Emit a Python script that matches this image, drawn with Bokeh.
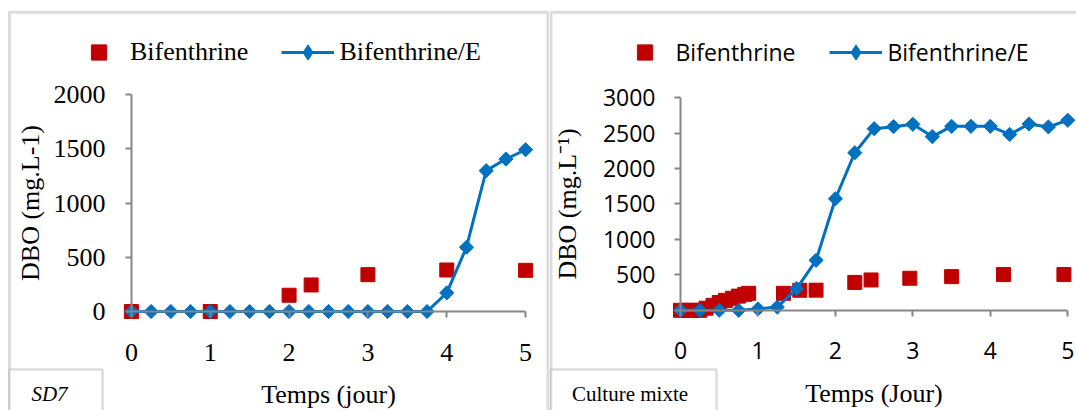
import math

from bokeh.embed import file_html
from bokeh.layouts import row
from bokeh.models import (BoxAnnotation, FixedTicker, Label, Legend,
                          LegendItem, Range1d)
from bokeh.plotting import figure
from bokeh.resources import INLINE

# ---- SD7 strain ------------------------------------------------------------
sd7_bif_days = [0, 1, 2, 2.28, 3, 4, 5]
sd7_bif_dbo = [0, 0, 150, 245, 340, 383, 380]

sd7_bife_days = [0, 0.25, 0.5, 0.75, 1, 1.25, 1.5, 1.75, 2, 2.25, 2.5,
                 2.75, 3, 3.25, 3.5, 3.75, 4, 4.25, 4.5, 4.75, 5]
sd7_bife_dbo = [0, 0, 0, 0, 0, 0, 0, 0, 0, 0, 0,
                0, 0, 0, 0, 0, 172, 593, 1300, 1407, 1493]

sd7_y_ticks = [0, 500, 1000, 1500, 2000]

# ---- mixed culture -----------------------------------------------------------
mix_bif_days = [0, 0.08, 0.17, 0.25, 0.33, 0.42, 0.5, 0.58, 0.67, 0.75,
                0.83, 0.88, 1.33, 1.54, 1.75, 2.25, 2.46, 2.96, 3.5,
                4.17, 4.95]
mix_bif_dbo = [0, 0, 0, 0, 30, 70, 110, 140, 170, 200,
               225, 240, 240, 283, 284, 393, 428, 452, 475,
               504, 504]

mix_bife_days = [0, 0.25, 0.5, 0.75, 1, 1.25, 1.5, 1.75, 2, 2.25, 2.5,
                 2.75, 3, 3.25, 3.5, 3.75, 4, 4.25, 4.5, 4.75, 5]
mix_bife_dbo = [0, 0, 0, 0, 20, 45, 306, 705, 1573, 2222, 2562,
                2590, 2623, 2450, 2595, 2595, 2595, 2480, 2628, 2586, 2680]

mix_y_ticks = [0, 500, 1000, 1500, 2000, 2500, 3000]
day_ticks = [0, 1, 2, 3, 4, 5]

RED = "#C00000"
BLUE = "#0070C0"
AXIS_GREY = "#868686"
FRAME_GREY = "#8C8C8C"
SERIF = "Liberation Serif"
SANS = "Open Sans"

H = 410
LEGEND_ROW = 38


def build_panel(width, origin, x_scale, y_scale, y_max, y_ticks,
                bif_x, bif_y, bife_x, bife_y, tick_font, tick_size,
                legend_font, legend_size, x_title, y_title,
                y_label_standoff, y_title_standoff, legend_left,
                legend_spacing, frame_left, frame_right, tag_right,
                tag_text, tag_center, tag_style):
    """One chart panel; the plotting frame fills the whole canvas and the
    axes sit at the data origin (origin = pixel position of day 0 / DBO 0,
    x_scale / y_scale = pixels per unit)."""
    ox, oy = origin
    x_range = Range1d(-ox / x_scale, (width - ox) / x_scale)
    y_range = Range1d(-(H - oy) / y_scale, oy / y_scale)
    p = figure(width=width, height=H, x_range=x_range, y_range=y_range,
               output_backend="svg", toolbar_location=None,
               min_border=0, min_border_left=0, min_border_right=0,
               min_border_top=0, min_border_bottom=0)
    p.outline_line_color = None
    p.background_fill_color = "white"
    p.border_fill_color = "white"
    p.xgrid.visible = False
    p.ygrid.visible = False

    sq = p.scatter(bif_x, bif_y, marker="square", size=14, color=RED)
    ln = p.line(bife_x, bife_y, line_width=3, color=BLUE)
    p.scatter(bife_x, bife_y, marker="square", size=10,
              angle=math.pi / 4, color=BLUE)
    # small diamonds hidden inside the rotated squares; they give the
    # legend entry its diamond swatch
    swatch = p.scatter(bife_x, bife_y, marker="diamond", size=8, color=BLUE)

    for ax in (p.xaxis[0], p.yaxis[0]):
        ax.fixed_location = 0
        ax.axis_line_color = AXIS_GREY
        ax.axis_line_width = 2
        ax.major_tick_line_color = AXIS_GREY
        ax.major_tick_line_width = 2
        ax.major_tick_in = 0
        ax.major_tick_out = 6
        ax.minor_tick_line_color = None
        ax.major_label_text_font = tick_font
        ax.major_label_text_font_size = tick_size
        ax.major_label_text_color = "black"
        ax.axis_label_text_font = SERIF
        ax.axis_label_text_font_size = "26px"
        ax.axis_label_text_font_style = "normal"
        ax.axis_label_text_color = "black"

    p.xaxis.ticker = FixedTicker(ticks=day_ticks)
    p.xaxis.bounds = (0, 5)
    p.xaxis.major_label_standoff = 26
    p.xaxis.axis_label = x_title
    p.xaxis.axis_label_standoff = 16

    p.yaxis.ticker = FixedTicker(ticks=y_ticks)
    p.yaxis.bounds = (0, y_max)
    p.yaxis.major_label_standoff = y_label_standoff
    p.yaxis.axis_label = y_title
    p.yaxis.axis_label_standoff = y_title_standoff

    legend = Legend(
        items=[LegendItem(label="Bifenthrine", renderers=[sq]),
               LegendItem(label="Bifenthrine/E", renderers=[ln, swatch])],
        orientation="horizontal",
        location=(legend_left, H - 52 - LEGEND_ROW / 2),
        padding=0, margin=0, spacing=legend_spacing, glyph_width=53,
        glyph_height=LEGEND_ROW, label_standoff=5,
        label_text_font=legend_font, label_text_font_size=legend_size,
        label_text_color="black", border_line_color=None,
        background_fill_alpha=0)
    p.add_layout(legend)

    # panel frame around the chart (screen units: x from left, y from bottom)
    p.add_layout(BoxAnnotation(
        left=frame_left, right=frame_right, top=H - 11.7, bottom=-20,
        left_units="screen", right_units="screen", top_units="screen",
        bottom_units="screen", fill_color=None, line_color=FRAME_GREY,
        line_width=3))

    # caption box in the lower-left corner
    p.add_layout(BoxAnnotation(
        left=frame_left, right=tag_right, top=H - 369, bottom=-20,
        left_units="screen", right_units="screen", top_units="screen",
        bottom_units="screen", fill_color="white", fill_alpha=1,
        line_color=FRAME_GREY, line_width=2.5))
    p.add_layout(Label(
        x=tag_center, y=H - 393, x_units="screen", y_units="screen",
        text=tag_text, text_font=SERIF, text_font_size="21px",
        text_font_style=tag_style, text_align="center",
        text_baseline="middle", text_color="black"))
    return p


left = build_panel(
    549, (130.9, 311.0), 78.84, 0.10835, 2000, sd7_y_ticks,
    sd7_bif_days, sd7_bif_dbo, sd7_bife_days, sd7_bife_dbo,
    SERIF, "26px", SERIF, "26px", "Temps (jour)", "DBO (mg.L-1)",
    20, 6, 72, 33, 9, 547.5, 102, "SD7", 49, "italic")

right = build_panel(
    527, (131.0, 309.8), 77.46, 0.0709, 3000, mix_y_ticks,
    mix_bif_days, mix_bif_dbo, mix_bife_days, mix_bife_dbo,
    SANS, "23px", SANS, "23px", "Temps (Jour)", "DBO (mg.L\u207b\u00b9)",
    19, 18, 68.5, 34, 1.5, 560, 167, "Culture mixte", 80.5, "normal")

layout = row(left, right, spacing=0)

with open("out.html", "w") as f:
    f.write(file_html(layout, INLINE))
